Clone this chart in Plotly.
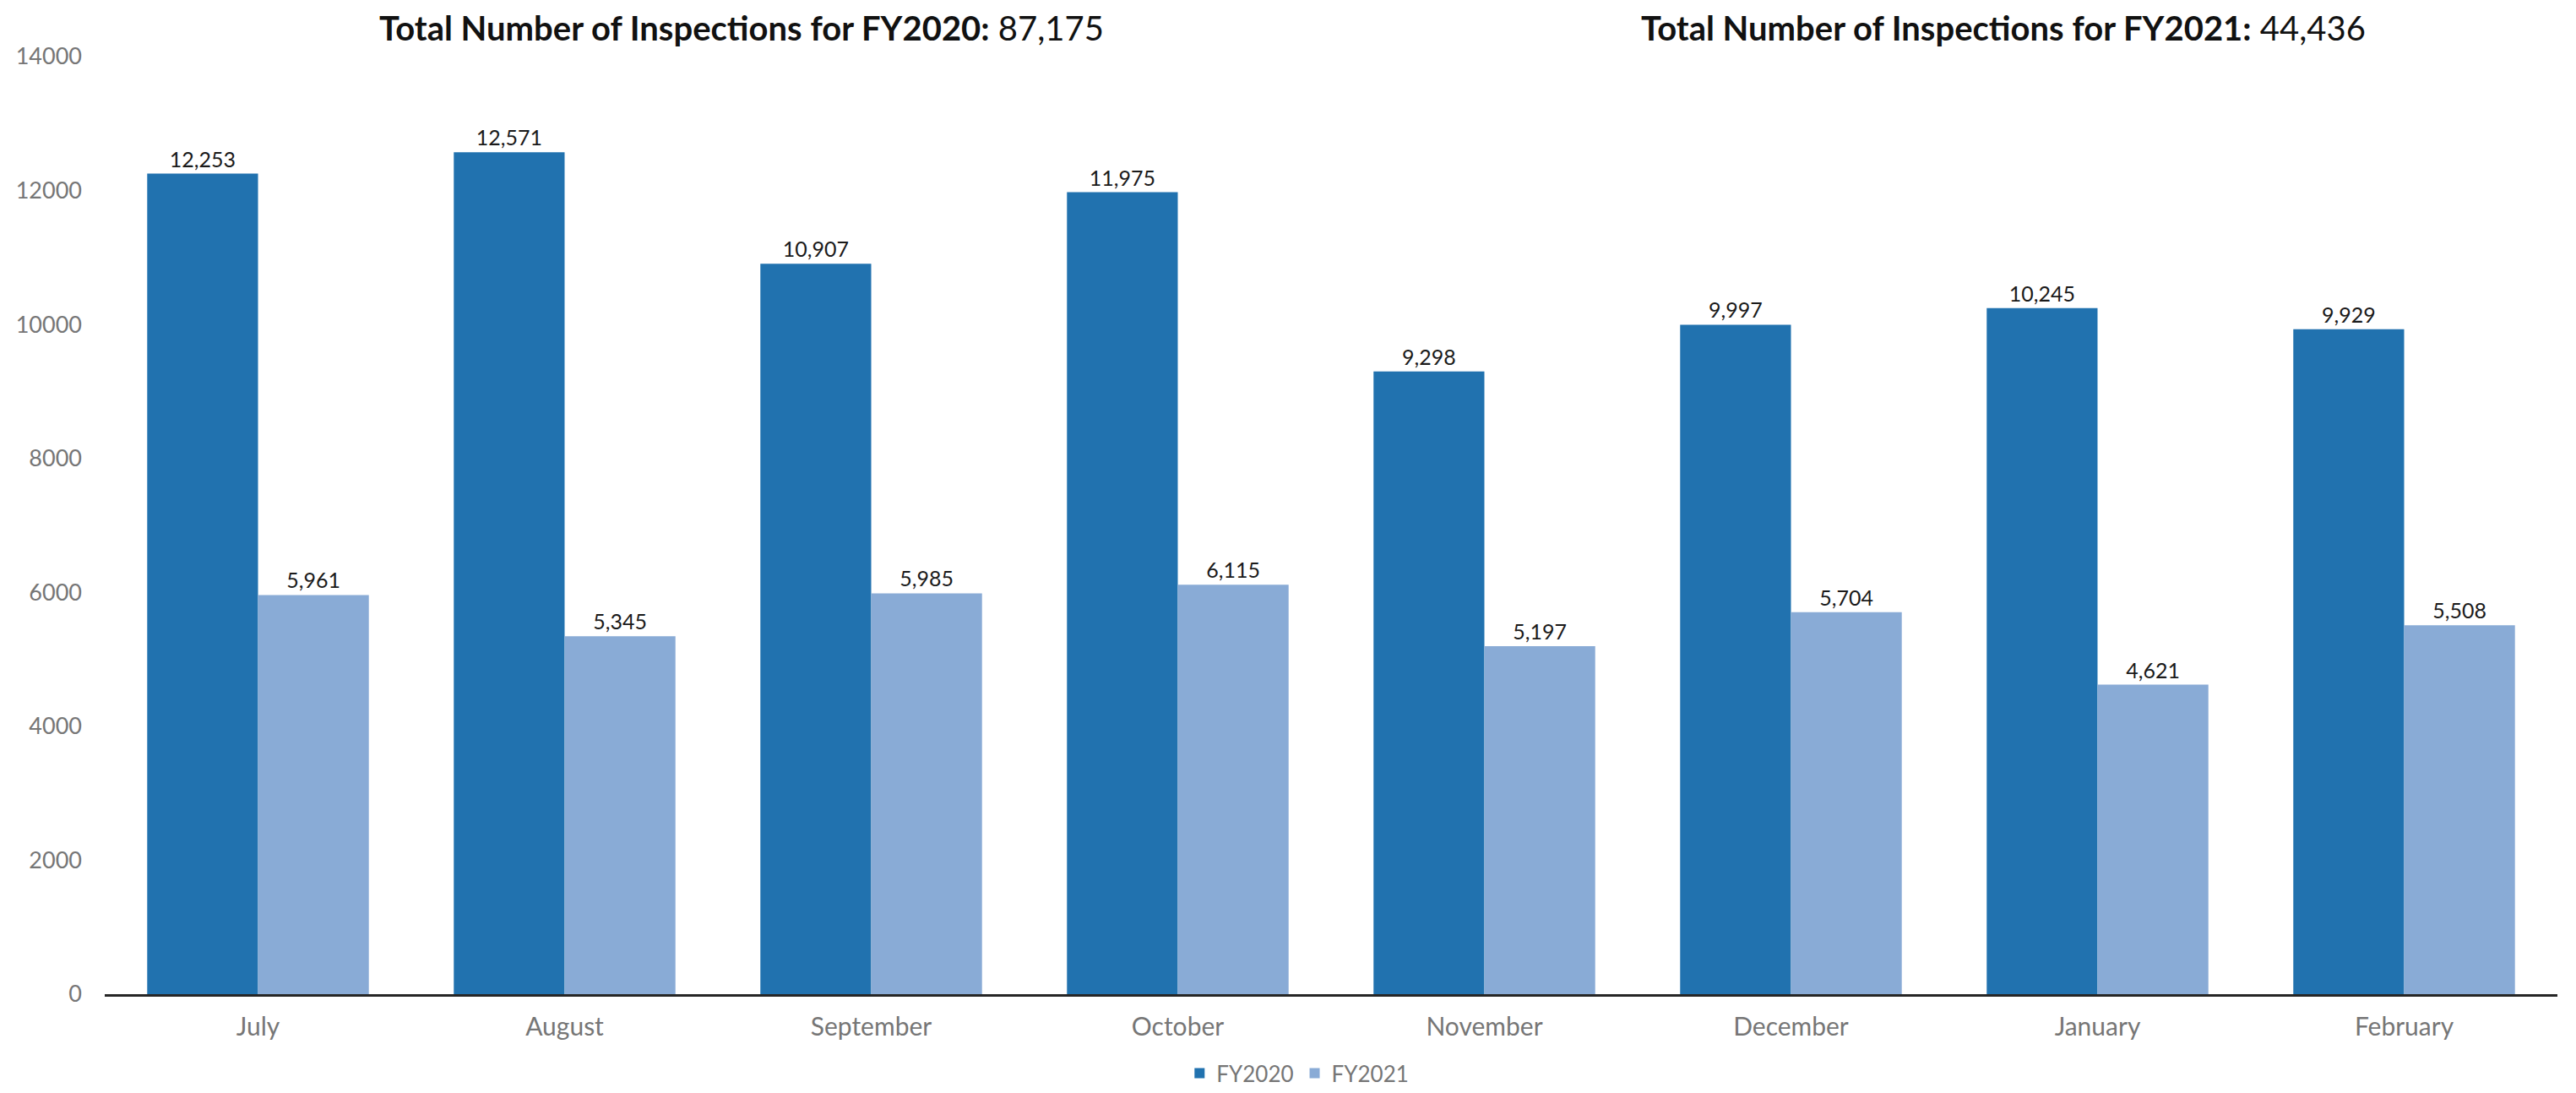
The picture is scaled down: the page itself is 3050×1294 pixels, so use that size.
import plotly.graph_objects as go

months = ["July", "August", "September", "October", "November", "December", "January", "February"]
fy2020 = [12253, 12571, 10907, 11975, 9298, 9997, 10245, 9929]
fy2021 = [5961, 5345, 5985, 6115, 5197, 5704, 4621, 5508]
series_names = ["FY2020", "FY2021"]
total_2020 = "87,175"
total_2021 = "44,436"
y_ticks = [0, 2000, 4000, 6000, 8000, 10000, 12000, 14000]

dark = "#2172AF"
light = "#89ABD6"
font_family = "Lato, 'Open Sans', sans-serif"

fig = go.Figure()
for name, vals, col in [(series_names[0], fy2020, dark), (series_names[1], fy2021, light)]:
    fig.add_trace(go.Bar(
        x=months, y=vals, name=name, marker=dict(color=col, line=dict(width=0)),
        texttemplate="%{y:,}", textposition="outside", cliponaxis=False,
        textfont=dict(size=25, color="#1a1a1a", family=font_family),
    ))

# page body has an 8px default margin, so the figure is offset by 8px
W, H = 3042, 1286
ml, mr, mt, mb = 116, 22, 59, 117

fig.update_layout(
    width=W, height=H,
    margin=dict(l=ml, r=mr, t=mt, b=mb, autoexpand=False),
    paper_bgcolor="white", plot_bgcolor="white",
    barmode="group", bargap=0.277, bargroupgap=0,
    font=dict(family=font_family, color="#767676"),
    showlegend=True,
    legend=dict(orientation="h", x=0.4865, xanchor="center", yref="container", y=-0.0086, yanchor="bottom",
                font=dict(size=26, color="#767676"), itemwidth=30, traceorder="normal"),
    xaxis=dict(showline=True, linecolor="#262626", linewidth=3, ticks="", automargin=False,
               tickfont=dict(size=30, color="#767676"), showgrid=False, ticklabelstandoff=10),
    yaxis=dict(range=[0, 14000], tickvals=y_ticks, showgrid=False, zeroline=False, automargin=False,
               showline=False, tickfont=dict(size=27, color="#767676"), ticklabelstandoff=26,
               tickformat="d"),
)

for xpos, label, total in [(0.2595, "FY2020", total_2020), (0.774, "FY2021", total_2021)]:
    fig.add_annotation(
        xref="paper", yref="paper", x=xpos, y=1.031, xanchor="center", yanchor="middle",
        text=f"<b>Total Number of Inspections for {label}:</b> {total}",
        showarrow=False, font=dict(size=40, color="#111111", family=font_family),
    )

fig.write_html("out.html")
